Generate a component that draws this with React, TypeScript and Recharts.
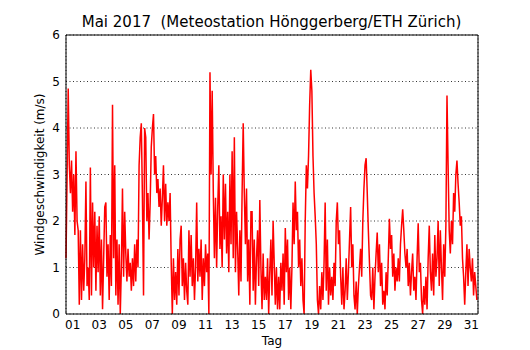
import { LineChart, Line, XAxis, YAxis, CartesianGrid } from "recharts";

// wind speed (m/s), 12 samples per day (every 2 h)
const week1 = [
  1.2, 3.0, 4.85, 3.2, 2.6, 3.3, 2.2, 3.0, 1.7, 3.5, 2.0, 1.8,
  0.2, 1.8, 0.3, 1.5, 0.5, 1.2, 2.85, 0.6, 1.0, 0.3, 3.15, 0.4,
  2.4, 1.0, 2.2, 0.5, 1.9, 0.9, 2.1, 0.4, 1.6, 0.1, 1.2, 2.3,
  2.4, 0.8, 1.5, 0.3, 1.7, 0.6, 4.5, 1.2, 3.2, 0.4, 1.6, 0.2,
  1.5, 0.0, 1.0, 2.7, 0.8, 2.2, 1.3, 0.7, 1.4, 0.8, 1.1, 0.5,
  1.2, 0.6, 1.5, 0.7, 1.6, 1.0, 3.2, 3.8, 4.1, 2.5, 0.4, 4.0,
  3.8, 2.0, 2.6, 1.6, 2.4, 3.6, 4.0, 4.3, 3.0, 3.4, 2.6, 2.9,
];
const week2 = [
  2.3, 2.7, 1.9, 2.5, 3.2, 2.0, 2.8, 1.9, 2.4, 2.0, 2.6, 1.1,
  0.0, 1.2, 0.3, 0.9, 0.2, 1.4, 0.4, 1.6, 1.9, 0.6, 1.2, 0.3,
  1.1, 0.5, 0.2, 1.8, 0.8, 1.7, 0.6, 1.2, 0.3, 1.0, 2.4, 0.7,
  1.4, 0.8, 1.6, 0.3, 1.2, 0.6, 1.5, 0.9, 1.3, 0.0, 5.2, 3.0,
  4.8, 2.6, 1.2, 2.5, 1.0, 2.3, 3.2, 1.4, 2.1, 1.0, 3.0, 1.6,
  2.8, 1.3, 2.2, 0.9, 3.0, 1.5, 3.5, 1.2, 3.8, 0.9, 2.2, 1.4,
  0.4, 1.8, 0.7, 2.6, 4.1, 2.6, 1.5, 2.7, 0.7, 1.6, 0.2, 2.2,
];
const week3 = [
  2.2, 0.5, 1.6, 0.2, 1.2, 1.8, 0.6, 2.45, 1.0, 0.1, 1.3, 0.3,
  0.8, 0.3, 1.2, 0.0, 0.9, 1.6, 0.4, 2.0, 1.1, 0.2, 1.0, 0.1,
  0.8, 0.1, 1.1, 0.5, 1.3, 0.2, 1.85, 0.9, 1.6, 0.3, 1.0, 0.1,
  1.0, 2.4, 1.5, 2.85, 1.8, 2.2, 1.0, 1.6, 0.6, 1.2, 0.3, 0.0,
  2.0, 3.2, 2.7, 3.4, 4.5, 5.25, 4.8, 3.4, 2.6, 2.1, 1.5, 0.3,
  0.0, 0.6, 0.1, 0.9, 0.3, 1.1, 2.4, 0.5, 1.6, 0.2, 1.0, 0.4,
  0.8, 0.3, 1.1, 0.6, 2.0, 2.4, 1.5, 1.8, 0.8, 0.2, 1.0, 0.1,
];
const week4 = [
  0.5, 1.2, 0.3, 0.9, 1.6, 2.3, 1.0, 1.5, 0.4, 0.1, 0.7, 0.0,
  0.6, 1.0, 1.4, 0.8, 2.0, 2.7, 3.2, 3.35, 2.6, 1.8, 1.1, 0.4,
  0.3, 1.0, 0.1, 0.8, 1.3, 1.75, 0.9, 1.5, 0.6, 1.1, 0.2, 0.5,
  0.1, 0.9, 0.4, 1.2, 2.05, 1.4, 1.7, 0.8, 1.3, 0.5, 1.0, 0.7,
  1.2, 0.7, 1.5, 1.9, 2.25, 1.8, 1.3, 1.0, 1.4, 0.6, 1.1, 0.4,
  0.9, 1.3, 0.5, 0.8, 0.3, 1.2, 1.95, 0.9, 1.1, 0.3, 0.0, 0.6,
  0.2, 0.8, 0.1, 1.2, 1.9, 0.9, 0.5, 1.3, 0.4, 1.7, 0.8, 1.2,
];
const week5 = [
  2.0, 0.6, 1.8, 1.0, 0.3, 1.5, 0.8, 1.9, 4.7, 3.2, 1.8, 1.3,
  2.0, 1.5, 2.6, 2.2, 3.0, 3.3, 2.8, 2.4, 1.9, 2.1, 1.2, 0.8,
  0.2, 0.9, 1.5, 0.6, 1.4, 1.0, 0.7, 1.2, 0.4, 0.9, 0.6, 0.3,
];

const samplesPerDay = 12;
const dayTicks = Array.from({ length: 30 }, (_, i) => i + 2);
const labelTicks = Array.from({ length: 16 }, (_, i) => 1.5 + i * 2);
const yTicks = [0, 1, 2, 3, 4, 5, 6];

const speeds = [...week1, ...week2, ...week3, ...week4, ...week5];
const data = speeds.map((v, i) => ({ t: 1 + i / samplesPerDay, v }));

const font = "DejaVu Sans";
const tickStyle = { fontSize: 12, fill: "#000", fontFamily: font };

export default function App() {
  return (
    <div style={{ position: "absolute", left: 0, top: 0, width: 530, height: 350, background: "#fff" }}>
      <div
        style={{
          position: "absolute",
          top: 13,
          left: 66,
          width: 411,
          textAlign: "center",
          fontFamily: font,
          fontSize: 15,
          color: "#000",
          whiteSpace: "pre",
        }}>
        {"Mai 2017  (Meteostation Hönggerberg/ETH Zürich)"}
      </div>
      <LineChart width={530} height={350} data={data} margin={{ top: 35, right: 52, bottom: 0, left: 0 }}>
        <CartesianGrid xAxisId="xt" yAxisId="y" stroke="#000" strokeWidth={0.8} strokeDasharray="1 2.5" />
        <XAxis
          xAxisId="x"
          dataKey="t"
          type="number"
          domain={[1, 32]}
          ticks={labelTicks}
          tickFormatter={(d: number) => String(Math.floor(d)).padStart(2, "0")}
          tickLine={false}
          tickSize={3}
          tickMargin={3}
          height={36}
          axisLine={{ stroke: "#000" }}
          tick={tickStyle}
          label={{ value: "Tag", position: "insideBottom", offset: 5, style: { fontSize: 12, fill: "#000", fontFamily: font } }}
        />
        <XAxis
          xAxisId="xb"
          dataKey="t"
          type="number"
          domain={[1, 32]}
          ticks={dayTicks}
          mirror
          tick={false}
          tickSize={4}
          axisLine={false}
          tickLine={{ stroke: "#000" }}
        />
        <XAxis
          xAxisId="xt"
          orientation="top"
          dataKey="t"
          type="number"
          domain={[1, 32]}
          ticks={dayTicks}
          mirror
          tick={false}
          tickSize={4}
          axisLine={{ stroke: "#000" }}
          tickLine={{ stroke: "#000" }}
        />
        <YAxis
          yAxisId="y"
          domain={[0, 6]}
          ticks={yTicks}
          width={66}
          tickLine={false}
          tickSize={3}
          tickMargin={3}
          axisLine={{ stroke: "#000" }}
          tick={tickStyle}
          label={{
            value: "Windgeschwindigkeit (m/s)",
            angle: -90,
            position: "center",
            dx: 7,
            style: { fontSize: 12, fill: "#000", fontFamily: font, textAnchor: "middle" },
          }}
        />
        <YAxis yAxisId="yl" domain={[0, 6]} ticks={yTicks} mirror tick={false} tickSize={4} axisLine={false} tickLine={{ stroke: "#000" }} />
        <YAxis
          yAxisId="yr"
          orientation="right"
          domain={[0, 6]}
          ticks={yTicks}
          mirror
          tick={false}
          tickSize={4}
          axisLine={{ stroke: "#000" }}
          tickLine={{ stroke: "#000" }}
        />
        <Line
          xAxisId="x"
          yAxisId="y"
          dataKey="v"
          type="linear"
          stroke="#ff0000"
          strokeWidth={1.5}
          dot={false}
          isAnimationActive={false}
        />
      </LineChart>
    </div>
  );
}
